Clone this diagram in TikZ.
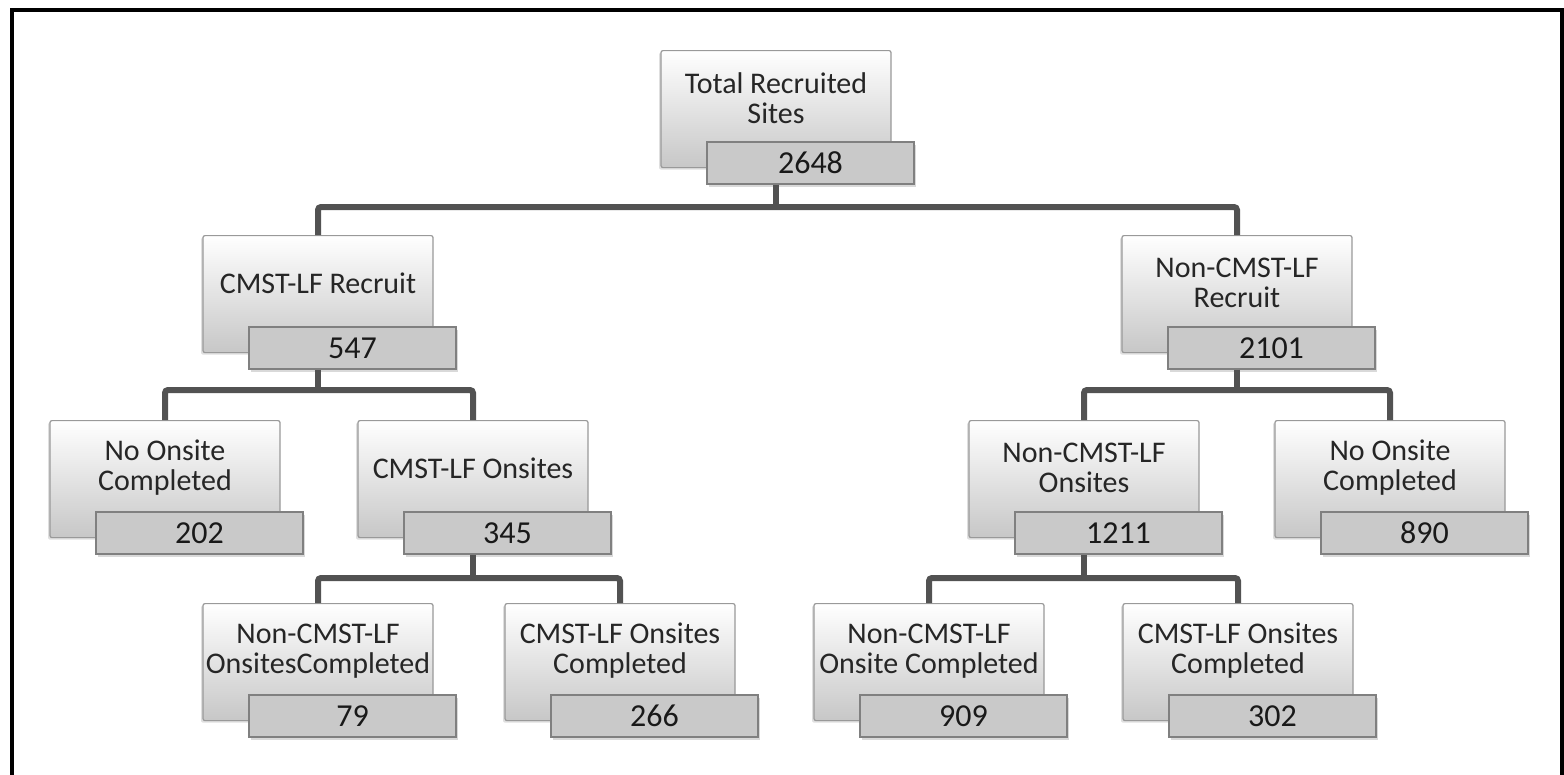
\documentclass[tikz,border=0pt]{standalone}
\usepackage{fontspec}
\setmainfont{Carlito}
\usetikzlibrary{shadows}

\tikzset{
  labelbox/.style={minimum width=230pt, minimum height=117pt, inner sep=0pt,
    anchor=north, top color=white, bottom color=black!22,
    draw=black!40, line width=1.2pt, rounded corners=2pt,
    drop shadow={opacity=0.25, shadow xshift=-2pt, shadow yshift=-2pt}},
  countbox/.style={minimum width=207pt, minimum height=42pt, inner sep=0pt,
    fill=black!21, draw=black!50, line width=1.2pt,
    font=\fontsize{32}{32}\selectfont, text=black!90,
    drop shadow={opacity=0.3, shadow xshift=2pt, shadow yshift=-3pt}},
  labeltext/.style={align=center, inner sep=0pt, text=black!85,
    font=\fontsize{30}{30}\selectfont},
  conn/.style={draw=black!68, line width=6pt, rounded corners=3pt},
  frameline/.style={draw=black, line width=4pt},
}

% name, centre x, top y, label, count
\newcommand\orgunit[5]{%
  \node[labelbox] (#1-u) at (#2,#3) {};
  \node[labeltext] (#1-t) at (#2,#3+48) {#4};
  \node[countbox] (#1-n) at (#2+34.5,#3+113) {#5};
}

\begin{document}
\begin{tikzpicture}[x=1pt,y=-1pt]
\useasboundingbox (0,0) rectangle (1564,774);
\draw[frameline] (12,790) -- (12,10) -- (1562,10) -- (1562,790);

% bus heights between the levels
\coordinate (bus1) at (0,207);
\coordinate (bus2) at (0,390);
\coordinate (bus3) at (0,578);

% level 1
\orgunit{root}{776}{50}{Total Recruited\\Sites}{2648}
% level 2
\orgunit{cr}{318}{235}{CMST-LF Recruit}{547}
\orgunit{nr}{1237}{235}{Non-CMST-LF\\Recruit}{2101}
% level 3
\orgunit{cno}{165}{420}{No Onsite\\Completed}{202}
\orgunit{con}{473}{420}{CMST-LF Onsites}{345}
\orgunit{non}{1084}{420}{Non-CMST-LF\\Onsites}{1211}
\orgunit{nno}{1390}{420}{No Onsite\\Completed}{890}
% level 4
\orgunit{cnc}{318}{603}{Non-CMST-LF\\OnsitesCompleted}{79}
\orgunit{ccc}{620}{603}{CMST-LF Onsites\\Completed}{266}
\orgunit{nnc}{929}{603}{Non-CMST-LF\\Onsite Completed}{909}
\orgunit{ncc}{1238}{603}{CMST-LF Onsites\\Completed}{302}

% connectors
\draw[conn] (root-u.center |- root-n.south) -- (root-u.center |- bus1);
\draw[conn] (cr-u.north) |- (nr-u.north |- bus1) -- (nr-u.north);

\draw[conn] (cr-u.center |- cr-n.south) -- (cr-u.center |- bus2);
\draw[conn] (cno-u.north) |- (con-u.north |- bus2) -- (con-u.north);

\draw[conn] (nr-u.center |- nr-n.south) -- (nr-u.center |- bus2);
\draw[conn] (non-u.north) |- (nno-u.north |- bus2) -- (nno-u.north);

\draw[conn] (con-u.center |- con-n.south) -- (con-u.center |- bus3);
\draw[conn] (cnc-u.north) |- (ccc-u.north |- bus3) -- (ccc-u.north);

\draw[conn] (non-u.center |- non-n.south) -- (non-u.center |- bus3);
\draw[conn] (nnc-u.north) |- (ncc-u.north |- bus3) -- (ncc-u.north);
\end{tikzpicture}
\end{document}
